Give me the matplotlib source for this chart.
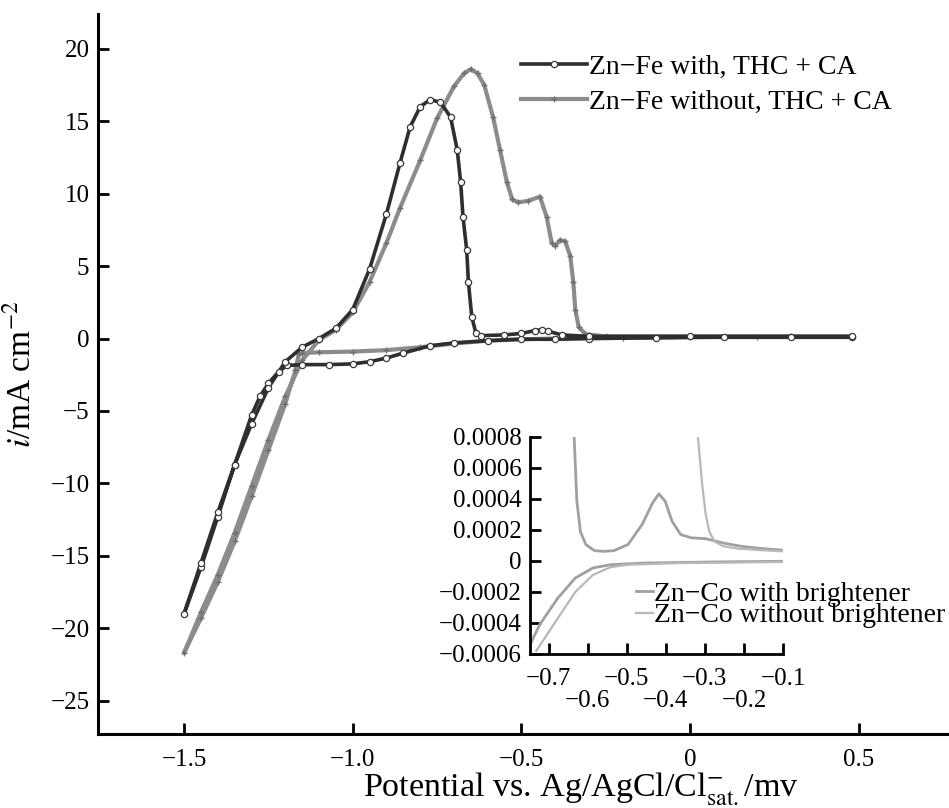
import matplotlib
matplotlib.use("Agg")
import matplotlib.pyplot as plt
import numpy as np

plt.rcParams['font.family'] = ['Liberation Serif', 'DejaVu Serif']
plt.rcParams['mathtext.fontset'] = 'stix'

# --- main CV curves (scan order: cathodic sweep then anodic sweep) ---
# Zn-Fe with THC + CA
with_x = [0.48, 0.3, 0.1, -0.1, -0.3, -0.4, -0.5, -0.6, -0.7, -0.77, -0.85, -0.9, -0.95,
          -1.0, -1.07, -1.15, -1.195, -1.22, -1.25, -1.275, -1.3, -1.35, -1.4, -1.45, -1.5,
          -1.45, -1.4, -1.35, -1.3, -1.25, -1.2, -1.15, -1.1, -1.05, -1.0, -0.95, -0.9,
          -0.86, -0.83, -0.8, -0.77, -0.74, -0.71, -0.69, -0.68, -0.673, -0.662, -0.657,
          -0.647, -0.635, -0.62, -0.55, -0.5, -0.46, -0.44, -0.42, -0.38, -0.3, 0.0, 0.48]
with_y = [0.1, 0.1, 0.1, 0.05, 0.0, -0.05, -0.05, -0.15, -0.3, -0.5, -1.0, -1.35, -1.6,
          -1.75, -1.8, -1.8, -1.86, -2.3, -3.1, -4.0, -5.3, -8.7, -12.3, -15.8, -19.0,
          -15.5, -12.0, -8.7, -5.9, -3.4, -1.6, -0.6, 0.0, 0.7, 2.0, 4.8, 8.6,
          12.1, 14.6, 16.0, 16.5, 16.3, 15.3, 13.0, 10.8, 8.4, 6.1, 3.9,
          1.5, 0.4, 0.2, 0.25, 0.35, 0.55, 0.6, 0.5, 0.25, 0.15, 0.15, 0.15]

# Zn-Fe without THC + CA
without_x = [0.48, 0.2, 0.0, -0.2, -0.4, -0.5, -0.6, -0.7, -0.8, -0.9, -1.0, -1.1, -1.15,
             -1.16, -1.17, -1.2, -1.25, -1.3, -1.35, -1.4, -1.45, -1.5,
             -1.45, -1.4, -1.35, -1.3, -1.25, -1.2, -1.15, -1.1, -1.05, -1.0, -0.95, -0.9,
             -0.86, -0.8, -0.75, -0.7, -0.67, -0.65, -0.63, -0.61, -0.584, -0.563, -0.543,
             -0.527, -0.51, -0.48, -0.445, -0.425, -0.41, -0.4, -0.385, -0.37, -0.355,
             -0.346, -0.34, -0.33, -0.31, -0.25, 0.0, 0.3, 0.48]
without_y = [0.1, 0.1, 0.1, 0.05, 0.0, -0.05, -0.15, -0.35, -0.6, -0.8, -0.9, -0.95, -1.0,
             -1.1, -2.2, -4.5, -7.7, -10.9, -14.0, -16.8, -19.3, -21.7,
             -18.9, -16.3, -13.4, -10.2, -7.0, -4.0, -1.5, -0.1, 0.6, 1.8, 3.9, 6.6,
             9.0, 12.3, 15.2, 17.4, 18.3, 18.6, 18.3, 17.5, 15.3, 13.0, 10.8,
             9.6, 9.4, 9.5, 9.8, 8.4, 6.6, 6.4, 6.8, 6.7, 5.7,
             3.9, 2.0, 0.8, 0.3, 0.15, 0.15, 0.15, 0.15]

# --- inset: Zn-Co ---
co_with_x = [-0.635, -0.628, -0.619, -0.605, -0.583, -0.56, -0.533, -0.497, -0.461, -0.434,
             -0.418, -0.402, -0.384, -0.362, -0.334, -0.298, -0.253, -0.208, -0.145, -0.098]
co_with_y = [0.0008, 0.000386, 0.00019, 0.000106, 0.000067, 0.000062, 0.000067, 0.000106,
             0.000235, 0.000375, 0.000433, 0.000386, 0.000256, 0.00017, 0.000149, 0.000144,
             0.000116, 0.000095, 0.000078, 0.000069]
co_with_neg_x = [-0.748, -0.723, -0.677, -0.632, -0.587, -0.542, -0.452, -0.271, -0.098]
co_with_neg_y = [-0.00054, -0.00041, -0.00024, -0.00011, -0.000045, -0.000024, -0.000013,
                 -0.000006, -0.000002]

co_without_x = [-0.318, -0.307, -0.298, -0.289, -0.276, -0.253, -0.217, -0.163, -0.098]
co_without_y = [0.0008, 0.000494, 0.0003, 0.000192, 0.000127, 0.000095, 0.00008, 0.000071,
                0.000062]
co_without_neg_x = [-0.732, -0.677, -0.632, -0.587, -0.542, -0.497, -0.362, -0.098]
co_without_neg_y = [-0.00058, -0.00037, -0.0002, -0.00009, -0.00004, -0.000024, -0.000013,
                    -0.000006]

xticks = [-1.5, -1.0, -0.5, 0.0, 0.5]
xtick_labels = ['\u22121.5', '\u22121.0', '\u22120.5', '0', '0.5']
yticks = [20, 15, 10, 5, 0, -5, -10, -15, -20, -25]

inset_yticks = [0.0008, 0.0006, 0.0004, 0.0002, 0.0, -0.0002, -0.0004, -0.0006]
inset_ylabels = ['0.0008', '0.0006', '0.0004', '0.0002', '0',
                 '\u22120.0002', '\u22120.0004', '\u22120.0006']
inset_xticks_top = [-0.7, -0.5, -0.3, -0.1]
inset_xlabels_top = ['\u22120.7', '\u22120.5', '\u22120.3', '\u22120.1']
inset_xticks_bot = [-0.6, -0.4, -0.2]
inset_xlabels_bot = ['\u22120.6', '\u22120.4', '\u22120.2']

fig = plt.figure(figsize=(9.49, 8.08), dpi=100)
ax = fig.add_axes([0.103, 0.0916, 0.897, 0.891])

ax.plot(with_x, with_y, color='#2e2e2e', lw=2.6, marker='o', ms=4.5,
        mfc='white', mec='#3a3a3a', mew=0.9, label='Zn\u2212Fe with, THC + CA', zorder=3)
ax.plot(without_x, without_y, color='#8c8c8c', lw=3.0, marker='+', ms=5,
        mec='#6e6e6e', mew=1.0, label='Zn\u2212Fe without, THC + CA', zorder=2)

ax.set_xlim(-1.756, 0.768)
ax.set_ylim(-27.3, 22.4)
ax.set_xticks(xticks)
ax.set_xticklabels(xtick_labels)
ax.set_yticks(yticks)
ax.set_yticklabels([('\u2212' + str(-v)) if v < 0 else str(v) for v in yticks])
for s in ['top', 'right']:
    ax.spines[s].set_visible(False)
for s in ['left', 'bottom']:
    ax.spines[s].set_linewidth(2.2)
ax.tick_params(direction='in', length=8, width=2, labelsize=18)
ax.tick_params(axis='x', pad=11)
ax.tick_params(axis='y', pad=6)

ax.set_ylabel('$i$/mA cm$^{-2}$', fontsize=24)
ax.yaxis.set_label_coords(-0.071, 0.5)
ax.set_xlabel('Potential vs. Ag/AgCl/Cl$^{-}_{\\rm sat.}$/mv', fontsize=24.5)
ax.xaxis.set_label_coords(0.567, -0.05)

ax.legend(loc='upper left', bbox_to_anchor=(0.497, 0.944), frameon=False, fontsize=20,
          handlelength=2.4, handletextpad=0.05, labelspacing=0.35, borderpad=0,
          borderaxespad=0, numpoints=1)

# inset
ins = fig.add_axes([0.5585, 0.1906, 0.2666, 0.2686])
ins.plot(co_with_x, co_with_y, color='#a0a0a0', lw=2.0, label='Zn\u2212Co with brightener')
ins.plot(co_with_neg_x, co_with_neg_y, color='#a0a0a0', lw=2.0)
ins.plot(co_without_x, co_without_y, color='#b8b8b8', lw=1.6, label='Zn\u2212Co without brightener')
ins.plot(co_without_neg_x, co_without_neg_y, color='#b8b8b8', lw=1.6)
ins.set_xlim(-0.748, -0.1)
ins.set_ylim(-0.0006, 0.0008)
ins.set_yticks(inset_yticks)
ins.set_yticklabels(inset_ylabels)
ins.set_xticks(inset_xticks_top)
ins.set_xticklabels(inset_xlabels_top)
ins.set_xticks(inset_xticks_bot, minor=True)
ins.set_xticklabels(inset_xlabels_bot, minor=True)
for s in ['top', 'right']:
    ins.spines[s].set_visible(False)
for s in ['left', 'bottom']:
    ins.spines[s].set_linewidth(2.0)
ins.tick_params(axis='both', which='both', direction='in', length=8, width=2, labelsize=18)
ins.tick_params(axis='x', which='major', pad=10)
ins.tick_params(axis='x', which='minor', pad=26)
ins.tick_params(axis='y', pad=6)
ins.patch.set_alpha(0)
ins.legend(loc='upper left', bbox_to_anchor=(0.42, 0.334), frameon=False, fontsize=20,
           handlelength=0.6, handletextpad=0.05, labelspacing=-0.15, borderpad=0,
           borderaxespad=0)

fig.savefig('out.png', dpi=100)
